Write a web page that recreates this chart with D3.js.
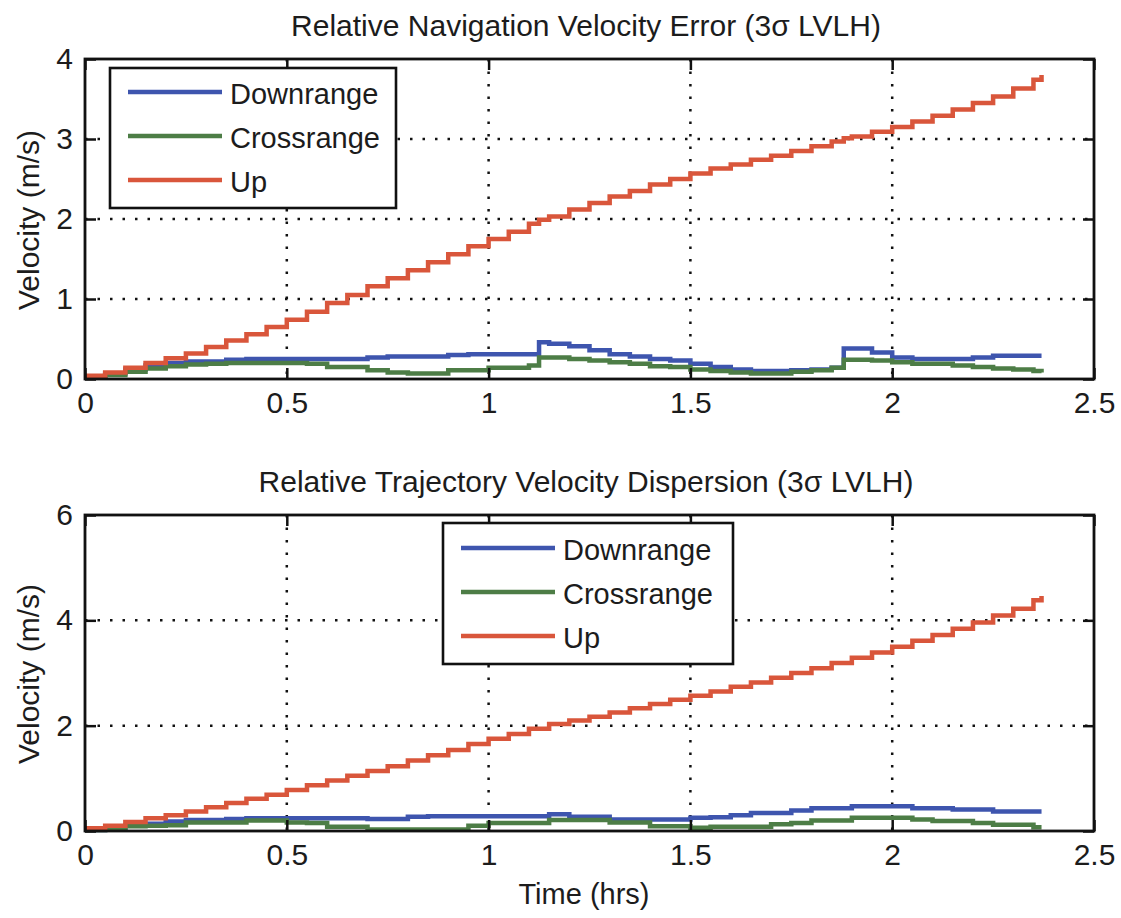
<!DOCTYPE html>
<html>
<head>
<meta charset="utf-8">
<script src="https://cdn.jsdelivr.net/npm/d3@7"></script>
<style>
body { margin: 0; background: #fff; }
text { font-family: "Liberation Sans", Arial, sans-serif; fill: #1c1c1c; }
</style>
</head>
<body>
<div id="chart"></div>
<script>
// top panel: relative navigation velocity error
const timeTop = [0, 0.05, 0.1, 0.15, 0.2, 0.25, 0.3, 0.35, 0.4, 0.45, 0.5, 0.55, 0.6, 0.65, 0.7, 0.75, 0.8, 0.85, 0.9, 0.95,
  1.0, 1.05, 1.1, 1.125, 1.15, 1.2, 1.25, 1.3, 1.35, 1.4, 1.45, 1.5, 1.55, 1.6, 1.65, 1.7, 1.75, 1.8, 1.85, 1.88,
  1.9, 1.95, 2.0, 2.05, 2.1, 2.15, 2.2, 2.25, 2.3, 2.35, 2.37];
const navDown = [0.03, 0.07, 0.12, 0.17, 0.20, 0.22, 0.22, 0.24, 0.25, 0.25, 0.25, 0.25, 0.25, 0.25, 0.27, 0.28, 0.28, 0.28, 0.30, 0.31,
  0.31, 0.31, 0.31, 0.46, 0.44, 0.41, 0.36, 0.31, 0.28, 0.25, 0.23, 0.19, 0.15, 0.12, 0.10, 0.10, 0.11, 0.12, 0.14, 0.38,
  0.38, 0.33, 0.27, 0.25, 0.25, 0.25, 0.27, 0.29, 0.29, 0.29, 0.29];
const navCross = [0.02, 0.05, 0.09, 0.13, 0.16, 0.18, 0.19, 0.20, 0.20, 0.20, 0.20, 0.19, 0.15, 0.15, 0.11, 0.08, 0.07, 0.07, 0.11, 0.11,
  0.14, 0.14, 0.17, 0.27, 0.27, 0.25, 0.23, 0.21, 0.19, 0.16, 0.15, 0.12, 0.10, 0.08, 0.07, 0.07, 0.09, 0.11, 0.14, 0.24,
  0.24, 0.23, 0.21, 0.19, 0.19, 0.17, 0.15, 0.13, 0.12, 0.10, 0.08];
const navUp = [0.04, 0.08, 0.14, 0.20, 0.26, 0.32, 0.40, 0.48, 0.56, 0.65, 0.74, 0.84, 0.95, 1.05, 1.16, 1.26, 1.36, 1.46, 1.56, 1.66,
  1.75, 1.84, 1.94, 1.99, 2.03, 2.12, 2.20, 2.28, 2.35, 2.43, 2.50, 2.57, 2.63, 2.68, 2.74, 2.79, 2.85, 2.91, 2.97, 3.01,
  3.03, 3.09, 3.15, 3.22, 3.29, 3.37, 3.45, 3.53, 3.63, 3.74, 3.80];

// bottom panel: relative trajectory velocity dispersion
const timeBottom = [0, 0.05, 0.1, 0.15, 0.2, 0.25, 0.3, 0.35, 0.4, 0.45, 0.5, 0.55, 0.6, 0.65, 0.7, 0.75, 0.8, 0.85, 0.9, 0.95,
  1.0, 1.05, 1.1, 1.15, 1.2, 1.25, 1.3, 1.35, 1.4, 1.45, 1.5, 1.55, 1.6, 1.65, 1.7, 1.75, 1.8, 1.85, 1.9, 1.95,
  2.0, 2.05, 2.1, 2.15, 2.2, 2.25, 2.3, 2.35, 2.37];
const dispDown = [0.02, 0.05, 0.10, 0.14, 0.18, 0.21, 0.21, 0.23, 0.24, 0.24, 0.24, 0.24, 0.24, 0.24, 0.23, 0.23, 0.27, 0.28, 0.28, 0.28,
  0.28, 0.28, 0.28, 0.32, 0.27, 0.27, 0.22, 0.22, 0.22, 0.22, 0.25, 0.26, 0.30, 0.34, 0.34, 0.39, 0.43, 0.43, 0.47, 0.47,
  0.47, 0.43, 0.43, 0.41, 0.41, 0.37, 0.37, 0.37, 0.37];
const dispCross = [0.02, 0.05, 0.09, 0.10, 0.11, 0.16, 0.16, 0.16, 0.20, 0.20, 0.16, 0.15, 0.08, 0.08, 0.03, 0.03, 0.03, 0.03, 0.03, 0.10,
  0.15, 0.15, 0.15, 0.21, 0.21, 0.21, 0.16, 0.16, 0.09, 0.09, 0.06, 0.08, 0.08, 0.08, 0.13, 0.15, 0.20, 0.20, 0.25, 0.25,
  0.25, 0.22, 0.19, 0.19, 0.15, 0.12, 0.12, 0.07, 0.07];
const dispUp = [0.05, 0.10, 0.17, 0.24, 0.30, 0.37, 0.45, 0.53, 0.61, 0.69, 0.78, 0.87, 0.96, 1.05, 1.14, 1.23, 1.34, 1.44, 1.54, 1.65,
  1.75, 1.84, 1.94, 2.03, 2.10, 2.17, 2.25, 2.33, 2.41, 2.49, 2.57, 2.65, 2.74, 2.82, 2.91, 3.00, 3.09, 3.19, 3.29, 3.39,
  3.50, 3.61, 3.72, 3.84, 3.96, 4.09, 4.22, 4.38, 4.46];

const seriesNames = ["Downrange", "Crossrange", "Up"];
const xTicks = [0, 0.5, 1, 1.5, 2, 2.5];
const yTicksTop = [0, 1, 2, 3, 4];
const yTicksBottom = [0, 2, 4, 6];

const colors = { "Downrange": "#3e55ae", "Crossrange": "#4d7d46", "Up": "#d9563b" };

const svg = d3.select("#chart").append("svg")
  .attr("width", 1121)
  .attr("height", 918)
  .style("background", "#fff");

function gridAttr(selection) {
  selection
    .attr("stroke", "#111")
    .attr("stroke-width", 2.5)
    .attr("stroke-dasharray", "2.5,10");
}

function axisStyle(selection) {
  selection.select(".domain").remove();
  selection.selectAll("line").attr("stroke", "#111").attr("stroke-width", 2.5);
  selection.attr("font-family", null).attr("font-size", null);
  selection.selectAll("text").style("font-size", "30px").attr("fill", "#1c1c1c");
}

function drawPanel(cfg) {
  const g = svg.append("g");
  const x = d3.scaleLinear().domain([0, 2.5]).range([cfg.left, cfg.right]);
  const y = d3.scaleLinear().domain([0, cfg.yMax]).range([cfg.bottom, cfg.top]);

  // dotted grid
  g.append("g").selectAll("line")
    .data(xTicks.slice(1, -1))
    .enter()
    .append("line")
    .attr("x1", d => x(d)).attr("x2", d => x(d))
    .attr("y1", cfg.top).attr("y2", cfg.bottom)
    .call(gridAttr);
  g.append("g").selectAll("line")
    .data(cfg.yTicks.slice(1, -1))
    .enter()
    .append("line")
    .attr("x1", cfg.left).attr("x2", cfg.right)
    .attr("y1", d => y(d)).attr("y2", d => y(d))
    .call(gridAttr);

  // stepped series
  const line = d3.line()
    .curve(d3.curveStepAfter)
    .x((d, i) => x(cfg.time[i]))
    .y(d => y(d));
  cfg.series.forEach(s => {
    g.append("path")
      .attr("d", line(s.values))
      .attr("fill", "none")
      .attr("stroke", colors[s.name])
      .attr("stroke-width", 4.5);
  });

  // axes, ticks pointing inward on all four sides
  g.append("g").attr("transform", `translate(0,${cfg.bottom})`)
    .call(d3.axisBottom(x).tickValues(xTicks).tickFormat(d3.format("~g")).tickSize(-11).tickSizeOuter(0).tickPadding(13))
    .call(axisStyle);
  g.append("g").attr("transform", `translate(0,${cfg.top})`)
    .call(d3.axisTop(x).tickValues(xTicks).tickFormat("").tickSize(-11).tickSizeOuter(0))
    .call(axisStyle);
  g.append("g").attr("transform", `translate(${cfg.left},0)`)
    .call(d3.axisLeft(y).tickValues(cfg.yTicks).tickFormat(d3.format("~g")).tickSize(-11).tickSizeOuter(0).tickPadding(12))
    .call(axisStyle);
  g.append("g").attr("transform", `translate(${cfg.right},0)`)
    .call(d3.axisRight(y).tickValues(cfg.yTicks).tickFormat("").tickSize(-11).tickSizeOuter(0))
    .call(axisStyle);

  g.append("rect")
    .attr("x", cfg.left).attr("y", cfg.top)
    .attr("width", cfg.right - cfg.left).attr("height", cfg.bottom - cfg.top)
    .attr("fill", "none").attr("stroke", "#111").attr("stroke-width", 2.8);

  // legend
  const lg = cfg.legend;
  g.append("rect")
    .attr("x", lg.x).attr("y", lg.y)
    .attr("width", lg.w).attr("height", lg.h)
    .attr("fill", "#fff").attr("stroke", "#111").attr("stroke-width", 2.6);
  seriesNames.forEach((name, i) => {
    const ly = lg.y + lg.first + i * lg.gap;
    g.append("line")
      .attr("x1", lg.x + 18).attr("x2", lg.x + 112)
      .attr("y1", ly).attr("y2", ly)
      .attr("stroke", colors[name]).attr("stroke-width", 4.5);
    g.append("text")
      .attr("x", lg.x + 120).attr("y", ly + 2)
      .attr("dy", "0.35em")
      .style("font-size", "29px")
      .text(name);
  });

  // labels
  svg.append("text")
    .attr("x", 586).attr("y", cfg.titleY)
    .attr("text-anchor", "middle")
    .style("font-size", "30px")
    .text(cfg.title);
  svg.append("text")
    .attr("transform", `translate(39,${(cfg.top + cfg.bottom) / 2 + 1}) rotate(-90)`)
    .attr("text-anchor", "middle")
    .style("font-size", "30px")
    .text("Velocity (m/s)");
}

drawPanel({
  left: 85, right: 1094, top: 59, bottom: 379,
  yMax: 4, yTicks: yTicksTop, time: timeTop,
  series: [
    { name: "Downrange", values: navDown },
    { name: "Crossrange", values: navCross },
    { name: "Up", values: navUp }
  ],
  title: "Relative Navigation Velocity Error (3\u03c3 LVLH)", titleY: 36,
  legend: { x: 110, y: 68, w: 286, h: 140, first: 24, gap: 44 }
});

drawPanel({
  left: 85, right: 1094, top: 515, bottom: 831,
  yMax: 6, yTicks: yTicksBottom, time: timeBottom,
  series: [
    { name: "Downrange", values: dispDown },
    { name: "Crossrange", values: dispCross },
    { name: "Up", values: dispUp }
  ],
  title: "Relative Trajectory Velocity Dispersion (3\u03c3 LVLH)", titleY: 492,
  legend: { x: 443, y: 523, w: 290, h: 141, first: 25, gap: 44 }
});

svg.append("text")
  .attr("x", 584).attr("y", 904)
  .attr("text-anchor", "middle")
  .style("font-size", "29px")
  .text("Time (hrs)");
</script>
</body>
</html>
